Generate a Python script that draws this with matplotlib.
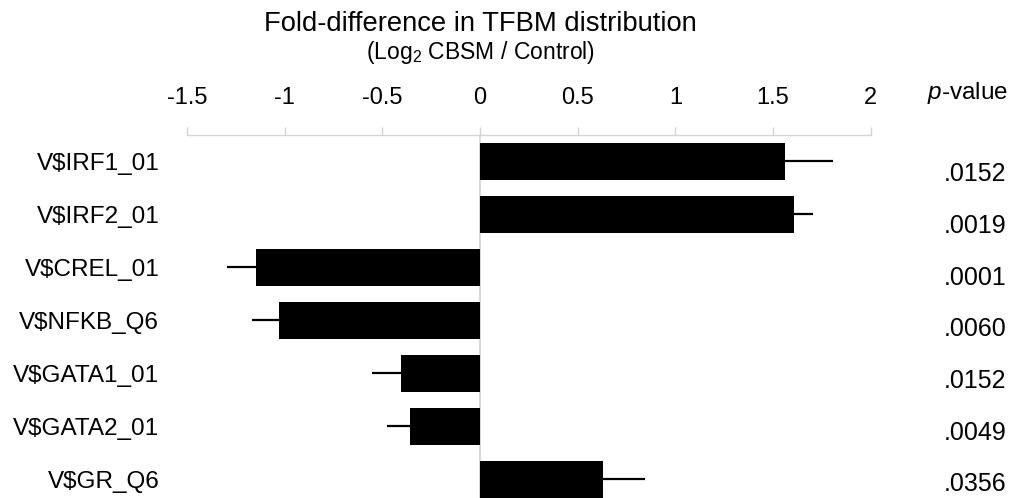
import numpy as np
import matplotlib
matplotlib.use("Agg")
import matplotlib.pyplot as plt
from matplotlib.transforms import blended_transform_factory

# data
factors = ["V$IRF1_01", "V$IRF2_01", "V$CREL_01", "V$NFKB_Q6",
           "V$GATA1_01", "V$GATA2_01", "V$GR_Q6"]
fold = [1.563, 1.607, -1.146, -1.029, -0.405, -0.359, 0.630]
err = [0.246, 0.096, 0.151, 0.138, 0.148, 0.115, 0.216]
pvals = [".0152", ".0019", ".0001", ".0060", ".0152", ".0049", ".0356"]
xticks = [-1.5, -1, -0.5, 0, 0.5, 1, 1.5, 2]
xticklabels = ["-1.5", "-1", "-0.5", "0", "0.5", "1", "1.5", "2"]

plt.rcParams["font.family"] = ["Liberation Sans", "DejaVu Sans"]
plt.rcParams["mathtext.fontset"] = "custom"
plt.rcParams["mathtext.rm"] = "Liberation Sans"
plt.rcParams["mathtext.it"] = "Liberation Sans:italic"

fold = np.array(fold)
err = np.array(err)
ypos = np.arange(len(factors))
# error bar only on the side away from zero
xerr = np.vstack([np.where(fold < 0, err, 0), np.where(fold > 0, err, 0)])

fig = plt.figure(figsize=(10.25, 4.98), dpi=100)
ax = fig.add_axes([187 / 1025, 0, (870.7 - 187) / 1025, 1 - 135 / 498])

grey = "#d4d4d4"
ax.axvline(0, color=grey, lw=1.2, zorder=0)
ax.barh(ypos, fold, height=0.71, color="black", zorder=2)
ax.errorbar(fold, ypos, xerr=xerr, fmt="none", ecolor="black",
            elinewidth=1.6, capsize=0, zorder=1)

ax.set_xlim(-1.5, 2)
ax.set_ylim(6.35, -0.5)

ax.xaxis.tick_top()
ax.set_xticks(xticks)
ax.set_xticklabels(xticklabels, fontsize=17)
ax.tick_params(axis="x", direction="out", length=6, width=1, color=grey, pad=13)

ax.set_yticks(ypos)
ax.set_yticklabels(factors, fontsize=17.5)
ax.tick_params(axis="y", length=0, pad=20)

for s in ["left", "right", "bottom"]:
    ax.spines[s].set_visible(False)
ax.spines["top"].set_color(grey)
ax.spines["top"].set_linewidth(1)

# p-values on the right, spaced a little tighter than the bars
tr = blended_transform_factory(fig.transFigure, ax.transData)
for y, p in zip(ypos, pvals):
    ax.text(1006 / 1025, 0.24 + y * 51.7 / 53, p, transform=tr,
            ha="right", va="center", fontsize=18)
fig.text(1008 / 1025, 1 - 93 / 498, "$p$-value", ha="right", va="center",
         fontsize=17.5)

# titles
fig.text(480 / 1025, 1 - 31 / 498, "Fold-difference in TFBM distribution",
         ha="center", va="baseline", fontsize=19.7)
fig.text(480 / 1025, 1 - 59 / 498, "(Log$_2$ CBSM / Control)",
         ha="center", va="baseline", fontsize=16.5)

fig.savefig("out.png", dpi=100)
